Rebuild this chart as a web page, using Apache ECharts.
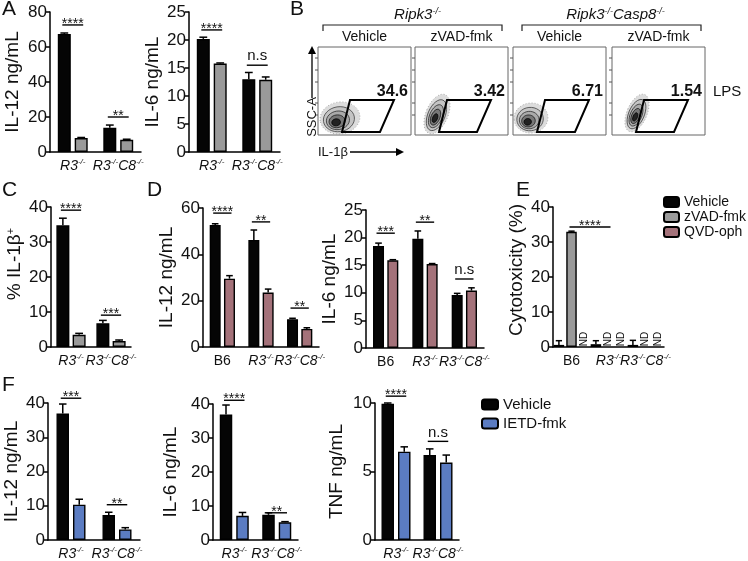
<!DOCTYPE html>
<html><head><meta charset="utf-8">
<script src="https://cdn.jsdelivr.net/npm/echarts@6/dist/echarts.min.js"></script>
<style>html,body{margin:0;padding:0;background:#fff}#c{width:748px;height:561px}</style>
</head><body><div id="c"></div>
<script>
// ================= DATA =================
const catsTwo = ['R3', 'R3C8'];
const catsThree = ['B6', 'R3', 'R3C8'];

// Panel A
const aIL12Vehicle = [67.5, 13.8];
const aIL12VehicleErr = [0.5, 1.6];
const aIL12Zvad = [8.0, 7.0];
const aIL12ZvadErr = [0.3, 0.3];
const aIL6Vehicle = [20.2, 13.0];
const aIL6VehicleErr = [0.3, 1.2];
const aIL6Zvad = [15.8, 12.9];
const aIL6ZvadErr = [0.1, 0.5];
// Panel B (flow cytometry gate %)
const bGenotypes = ['Ripk3', 'Ripk3Casp8'];
const bTreatments = ['Vehicle', 'zVAD-fmk', 'Vehicle', 'zVAD-fmk'];
const bGatePercent = ['34.6', '3.42', '6.71', '1.54'];
// Panel C
const cVehicle = [34.8, 6.8];
const cVehicleErr = [2.0, 0.8];
const cZvad = [3.5, 1.7];
const cZvadErr = [0.4, 0.3];
// Panel D
const dIL12Vehicle = [52.7, 46.2, 12.0];
const dIL12VehicleErr = [0.5, 4.3, 0.4];
const dIL12Qvd = [29.5, 23.5, 7.8];
const dIL12QvdErr = [1.3, 1.5, 0.5];
const dIL6Vehicle = [18.5, 19.8, 9.6];
const dIL6VehicleErr = [0.5, 1.4, 0.3];
const dIL6Qvd = [15.9, 15.2, 10.4];
const dIL6QvdErr = [0.1, 0.1, 0.5];
// Panel E ('ND' = not detected)
const eVehicle = [0.6, 0.8, 0.6];
const eVehicleErr = [1.2, 1.0, 1.3];
const eZvad = [32.9, 'ND', 'ND'];
const eZvadErr = [0.2, 0, 0];
const eQvd = ['ND', 'ND', 'ND'];
const eQvdErr = [0, 0, 0];
// Panel F
const fIL12Vehicle = [36.9, 7.3];
const fIL12VehicleErr = [2.8, 0.8];
const fIL12Ietd = [10.3, 3.1];
const fIL12IetdErr = [1.6, 0.5];
const fIL6Vehicle = [36.9, 7.4];
const fIL6VehicleErr = [2.8, 0.6];
const fIL6Ietd = [7.1, 5.2];
const fIL6IetdErr = [1.0, 0.2];
const fTnfVehicle = [9.95, 6.2];
const fTnfVehicleErr = [0.05, 0.45];
const fTnfIetd = [6.45, 5.65];
const fTnfIetdErr = [0.35, 0.55];

// Significance annotations (from [cat, bar] to [cat, bar], at value y)
const aIL12Sig = [{from:[0,0], to:[0,1], y:72.6, label:'****'}, {from:[1,0], to:[1,1], y:20, label:'**'}];
const aIL6Sig = [{from:[0,0], to:[0,1], y:21.8, label:'****'}, {from:[1,0], to:[1,1], y:15.5, label:'n.s'}];
const cSig = [{from:[0,0], to:[0,1], y:39.1, label:'****'}, {from:[1,0], to:[1,1], y:9.1, label:'***'}];
const dIL12Sig = [{from:[0,0], to:[0,1], y:57.8, label:'****'}, {from:[1,0], to:[1,1], y:54, label:'**'}, {from:[2,0], to:[2,1], y:16.8, label:'**'}];
const dIL6Sig = [{from:[0,0], to:[0,1], y:20.8, label:'***'}, {from:[1,0], to:[1,1], y:22.8, label:'**'}, {from:[2,0], to:[2,1], y:12.5, label:'n.s'}];
const eSig = [{from:[0,1], to:[1,1], y:34.3, label:'****'}];
const fIL12Sig = [{from:[0,0], to:[0,1], y:41.4, label:'***'}, {from:[1,0], to:[1,1], y:10.3, label:'**'}];
const fIL6Sig = [{from:[0,0], to:[0,1], y:41.1, label:'****'}, {from:[1,0], to:[1,1], y:8, label:'**'}];
const fTnfSig = [{from:[0,0], to:[0,1], y:10.5, label:'****'}, {from:[1,0], to:[1,1], y:7.2, label:'n.s'}];

// ================= STYLE =================
const FONT = '"Liberation Sans", Arial, Helvetica, sans-serif';
const TXT = '#111';
const COL = {'Vehicle':'#050505', 'zVAD-fmk':'#9a9a9a', 'QVD-oph':'#a4727a', 'IETD-fmk':'#5b7cc2'};

function catLabel(c){
  if (c === 'B6') return '{n|B6}';
  if (c === 'R3') return '{i|R3}{s|-/-}';
  return '{i|R3}{s|-/-}{i|C8}{s|-/-}';
}
function richCat(size){
  return {
    i:{fontFamily:FONT, fontStyle:'italic', fontSize:size, color:TXT, lineHeight:size+2},
    s:{fontFamily:FONT, fontStyle:'italic', fontSize:Math.round(size*0.6), color:TXT, lineHeight:6, verticalAlign:'top'},
    n:{fontFamily:FONT, fontSize:size, color:TXT, lineHeight:size+2}
  };
}

const grids = [], xAxes = [], yAxes = [], series = [];

function addPanel(p){
  const gi = grids.length;
  grids.push({left:p.rect[0], top:p.rect[1], width:p.rect[2], height:p.rect[3]});
  xAxes.push({gridIndex:gi, type:'category', data:p.cats, boundaryGap:true,
    axisLine:{lineStyle:{color:'#000', width:1.5}},
    axisTick:{alignWithLabel:true, length:4, lineStyle:{color:'#000', width:1.5}},
    axisLabel:{margin:6, interval:0, formatter:catLabel, rich:richCat(14)}});
  yAxes.push({gridIndex:gi, type:'value', min:0, max:p.max, interval:p.interval,
    name:p.name, nameLocation:'middle', nameGap:p.nameGap,
    nameTextStyle:{fontFamily:FONT, fontSize:19, color:TXT, lineHeight:20, padding:[0,0,0,p.nameShift || 0],
      rich:{s:{fontFamily:FONT, fontSize:11, color:TXT, lineHeight:8, verticalAlign:'top'}}},
    axisLine:{show:true, lineStyle:{color:'#000', width:1.5}},
    axisTick:{show:true, length:4, lineStyle:{color:'#000', width:1.5}},
    axisLabel:{fontFamily:FONT, fontSize:17, color:TXT, margin:3},
    splitLine:{show:false}});
  const n = p.groups.length;
  const step = p.bw * (1 + p.gap);
  const offFor = k => (k - (n - 1) / 2) * step;
  p.groups.forEach((g, k) => {
    const name = g[0], vals = g[1], errs = g[2];
    const off = offFor(k);
    series.push({type:'bar', name:name, xAxisIndex:gi, yAxisIndex:gi,
      data: vals.map(v => v === 'ND' ? '-' : v),
      barWidth:p.bw, barGap:(p.gap * 100) + '%',
      itemStyle:{color:COL[name], borderColor:'#000', borderWidth:1.4}, z:2});
    series.push({type:'custom', xAxisIndex:gi, yAxisIndex:gi, z:3,
      data: vals.map((v, i) => [i, v === 'ND' ? 0 : v, errs[i], v === 'ND' ? 1 : 0]),
      renderItem:(params, api) => {
        const i = api.value(0), v = api.value(1), e = api.value(2), nd = api.value(3);
        const base = api.coord([i, v]);
        const x = base[0] + off;
        if (nd) {
          return {type:'text', rotation:Math.PI/2, x:x, y:base[1] - 8,
            style:{text:'ND', align:'center', verticalAlign:'middle', fontFamily:FONT, fontSize:10, fill:TXT}};
        }
        if (!e) return null;
        const top = api.coord([i, v + e]);
        const cap = p.bw * 0.3;
        return {type:'group', children:[
          {type:'line', shape:{x1:x, y1:base[1], x2:x, y2:top[1]}, style:{stroke:'#000', lineWidth:1.5}},
          {type:'line', shape:{x1:x - cap, y1:top[1], x2:x + cap, y2:top[1]}, style:{stroke:'#000', lineWidth:1.5}}
        ]};
      }});
  });
  series.push({type:'custom', xAxisIndex:gi, yAxisIndex:gi, z:4, clip:false,
    data: p.sig.map(s => [s.from[0], s.y]),
    renderItem:(params, api) => {
      const s = p.sig[params.dataIndex];
      const a = api.coord([s.from[0], s.y]);
      const b = api.coord([s.to[0], s.y]);
      const x1 = a[0] + offFor(s.from[1]) - 2;
      const x2 = b[0] + offFor(s.to[1]) + 2;
      const y = a[1];
      const star = s.label.indexOf('*') >= 0;
      return {type:'group', children:[
        {type:'line', shape:{x1:x1, y1:y, x2:x2, y2:y}, style:{stroke:'#000', lineWidth:1.4}},
        {type:'text', x:(x1 + x2) / 2, y: star ? y - 1 : y - 9,
          style:{text:s.label, align:'center', verticalAlign:'middle', fontFamily:FONT,
            fontSize: star ? 14 : 15, fill:TXT}}
      ]};
    }});
}

addPanel({rect:[50,12,91,140], cats:catsTwo, max:80, interval:20, name:'IL-12 ng/mL', nameGap:27, bw:13, gap:0.3,
  groups:[['Vehicle', aIL12Vehicle, aIL12VehicleErr], ['zVAD-fmk', aIL12Zvad, aIL12ZvadErr]], sig:aIL12Sig});
addPanel({rect:[189,12,91,140], cats:catsTwo, max:25, interval:5, name:'IL-6 ng/mL', nameGap:26, bw:13, gap:0.3,
  groups:[['Vehicle', aIL6Vehicle, aIL6VehicleErr], ['zVAD-fmk', aIL6Zvad, aIL6ZvadErr]], sig:aIL6Sig});
addPanel({rect:[51,207,80,140], cats:catsTwo, max:40, interval:10, name:'% IL-1β{s|+}', nameGap:23, nameShift:26, bw:13, gap:0.25,
  groups:[['Vehicle', cVehicle, cVehicleErr], ['zVAD-fmk', cZvad, cZvadErr]], sig:cSig});
addPanel({rect:[203,208,116,139], cats:catsThree, max:60, interval:20, name:'IL-12 ng/mL', nameGap:23, bw:11, gap:0.3,
  groups:[['Vehicle', dIL12Vehicle, dIL12VehicleErr], ['QVD-oph', dIL12Qvd, dIL12QvdErr]], sig:dIL12Sig});
addPanel({rect:[366,210,118,138], cats:catsThree, max:25, interval:5, name:'IL-6 ng/mL', nameGap:24, bw:11, gap:0.3,
  groups:[['Vehicle', dIL6Vehicle, dIL6VehicleErr], ['QVD-oph', dIL6Qvd, dIL6QvdErr]], sig:dIL6Sig});
addPanel({rect:[553,207,111,140], cats:catsThree, max:40, interval:10, name:'Cytotoxicity (%)', nameGap:21, nameShift:14, bw:10.5, gap:0.2,
  groups:[['Vehicle', eVehicle, eVehicleErr], ['zVAD-fmk', eZvad, eZvadErr], ['QVD-oph', eQvd, eQvdErr]], sig:eSig});
addPanel({rect:[48,403,92,140], cats:catsTwo, max:40, interval:10, name:'IL-12 ng/mL', nameGap:24, bw:12.5, gap:0.32,
  groups:[['Vehicle', fIL12Vehicle, fIL12VehicleErr], ['IETD-fmk', fIL12Ietd, fIL12IetdErr]], sig:fIL12Sig});
addPanel({rect:[213,404,85,139], cats:catsTwo, max:40, interval:10, name:'IL-6 ng/mL', nameGap:32, bw:12.5, gap:0.32,
  groups:[['Vehicle', fIL6Vehicle, fIL6VehicleErr], ['IETD-fmk', fIL6Ietd, fIL6IetdErr]], sig:fIL6Sig});
addPanel({rect:[375,403,84,140], cats:catsTwo, max:10, interval:5, name:'TNF ng/mL', nameGap:28, bw:12.5, gap:0.32,
  groups:[['Vehicle', fTnfVehicle, fTnfVehicleErr], ['IETD-fmk', fTnfIetd, fTnfIetdErr]], sig:fTnfSig});

// ================= GRAPHIC (panel letters, flow panel B) =================
const graphics = [];
function txt(x, y, text, opt){
  graphics.push(Object.assign({type:'text', x:x, y:y, silent:true,
    style:Object.assign({text:text, fontFamily:FONT, fontSize:14, fill:TXT, align:'left', verticalAlign:'top'}, opt && opt.style || {})},
    opt && opt.el || {}));
}
[['A',2,-1],['B',290,-1],['C',2,180],['D',147,180],['E',516,180],['F',2,375]].forEach(l =>
  txt(l[1], l[2], l[0], {style:{fontSize:21}}));

const richGeno = {
  i:{fontFamily:FONT, fontStyle:'italic', fontSize:15, fill:TXT, lineHeight:17},
  s:{fontFamily:FONT, fontStyle:'italic', fontSize:9, fill:TXT, lineHeight:6, verticalAlign:'top'}
};
function genoText(g){ return g === 'Ripk3' ? '{i|Ripk3}{s|-/-}' : '{i|Ripk3}{s|-/-}{i|Casp8}{s|-/-}'; }

const boxX = [318, 415, 513, 612], boxTop = 47, boxW = 93, boxH = 88;
[[323, 502], [522, 701]].forEach((br, gi) => {
  graphics.push({type:'polyline', silent:true, shape:{points:[[br[0],31],[br[0],25],[br[1],25],[br[1],31]]},
    style:{stroke:'#222', lineWidth:1.2, fill:null}});
  graphics.push({type:'text', silent:true, x:(br[0]+br[1])/2 + (gi ? 4 : 5), y:15,
    style:{text:genoText(bGenotypes[gi]), rich:richGeno, align:'center', verticalAlign:'middle'}});
});
// decorative contour clouds: [cx, cy, rx, ry, rotation]
const clouds = [
  [22, 118, 20, 16, 0.15],
  [22, 114, 11, 21, -0.4],
  [18, 118, 17, 15, 0.1],
  [25, 113, 10, 20, -0.4]
];
boxX.forEach((x0, k) => {
  graphics.push({type:'rect', silent:true, shape:{x:x0, y:boxTop, width:boxW, height:boxH},
    style:{fill:'#fff', stroke:'#666', lineWidth:1}});
  [58, 70, 82, 103, 115].forEach(ty => graphics.push({type:'line', silent:true,
    shape:{x1:x0-3, y1:ty, x2:x0, y2:ty}, style:{stroke:'#555', lineWidth:1}}));
  const c = clouds[k];
  const cx = x0 + c[0], cy = c[1];
  [[1.0,'#dcdcdc','#9a9a9a',[1,2]],[0.78,'#c4c4c4','#333',null],[0.58,'#aaaaaa','#222',null],[0.4,'#777','#111',null],[0.22,'#222','#000',null]].forEach(l =>
    graphics.push({type:'ellipse', silent:true, rotation:c[4], originX:cx, originY:cy + c[3]*(1-l[0])*0.3,
      shape:{cx:cx - c[2]*(1-l[0])*0.25, cy:cy + c[3]*(1-l[0])*0.3, rx:c[2]*l[0], ry:c[3]*l[0]},
      style:{fill:l[1], stroke:l[2], lineWidth:0.7, lineDash:l[3]}}));
  graphics.push({type:'polygon', silent:true,
    shape:{points:[[x0+32,100],[x0+76,100],[x0+62,132],[x0+24,132]]},
    style:{fill:null, stroke:'#000', lineWidth:2}});
  txt(x0+90, 92, bGatePercent[k], {style:{align:'right', verticalAlign:'middle', fontSize:16, fontWeight:'bold'}});
  txt(x0+boxW/2, 37, bTreatments[k], {style:{align:'center', verticalAlign:'middle', fontSize:14}});
});
txt(713, 92, 'LPS', {style:{verticalAlign:'middle', fontSize:15}});
// flow axis arrows
graphics.push({type:'line', silent:true, shape:{x1:312, y1:98, x2:312, y2:52}, style:{stroke:'#000', lineWidth:1.3}});
graphics.push({type:'polygon', silent:true, shape:{points:[[308,54],[316,54],[312,46]]}, style:{fill:'#000'}});
graphics.push({type:'text', silent:true, x:312, y:117, rotation:Math.PI/2,
  style:{text:'SSC-A', fontFamily:FONT, fontSize:13, fill:TXT, align:'center', verticalAlign:'middle'}});
txt(318, 152, 'IL-1β', {style:{verticalAlign:'middle', fontSize:13}});
graphics.push({type:'line', silent:true, shape:{x1:350, y1:152, x2:398, y2:152}, style:{stroke:'#000', lineWidth:1.3}});
graphics.push({type:'polygon', silent:true, shape:{points:[[396,148],[396,156],[404,152]]}, style:{fill:'#000'}});

const chart = echarts.init(document.getElementById('c'), null, {renderer:'canvas', width:748, height:561});
chart.setOption({
  animation:false,
  backgroundColor:'#fff',
  textStyle:{fontFamily:FONT},
  legend:[
    {left:663, top:195, padding:0, orient:'vertical', itemWidth:15, itemHeight:10, itemGap:1, selectedMode:false,
      data:['Vehicle','zVAD-fmk','QVD-oph'],
      textStyle:{fontFamily:FONT, fontSize:14, color:TXT, lineHeight:14}},
    {left:481, top:397, padding:0, orient:'vertical', itemWidth:16, itemHeight:10, itemGap:4, selectedMode:false,
      data:['Vehicle','IETD-fmk'],
      textStyle:{fontFamily:FONT, fontSize:15, color:TXT, lineHeight:15}}
  ],
  grid:grids, xAxis:xAxes, yAxis:yAxes, series:series, graphic:graphics
});
</script></body></html>
